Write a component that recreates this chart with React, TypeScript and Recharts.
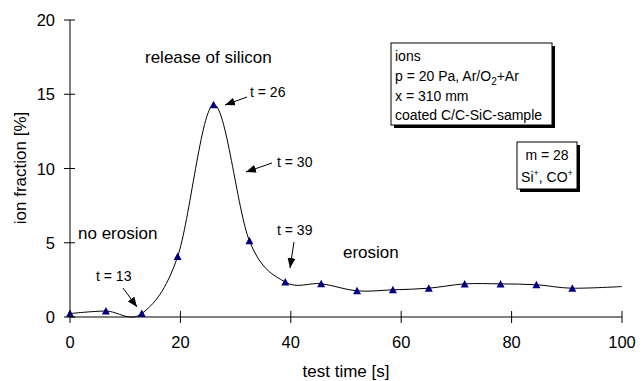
import React from "react";
import { LineChart, Line, XAxis, YAxis } from "recharts";

// measured points (every 6.5 s) + unmarked end of trace
const testTime = [0, 6.5, 13, 19.5, 26, 32.5, 39, 45.5, 52, 58.5, 65, 71.5, 78, 84.5, 91, 100];
const ionFraction = [0.23, 0.4, 0.23, 4.07, 14.3, 5.13, 2.35, 2.24, 1.76, 1.83, 1.94, 2.23, 2.23, 2.17, 1.94, 2.05];
const markedCount = 15;
const xTicks = [0, 20, 40, 60, 80, 100];
const yTicks = [0, 5, 10, 15, 20];

const data = testTime.map((t, i) => ({ t, v: ionFraction[i] }));

const FONT = '"Liberation Sans", Arial, sans-serif';
const PLOT_LEFT = 70;
const PLOT_BOTTOM = 317;

// Excel style smoothed line (Catmull-Rom / cardinal, tension 0)
const excelSmooth = (ctx: any) => {
  let x0 = NaN, x1 = NaN, x2 = NaN, y0 = NaN, y1 = NaN, y2 = NaN;
  let n = 0;
  let line = NaN;
  const k = 1 / 6;
  const seg = (x: number, y: number) =>
    ctx.bezierCurveTo(x1 + k * (x2 - x0), y1 + k * (y2 - y0), x2 + k * (x1 - x), y2 + k * (y1 - y), x2, y2);
  return {
    areaStart() { line = 0; },
    areaEnd() { line = NaN; },
    lineStart() { x0 = x1 = x2 = y0 = y1 = y2 = NaN; n = 0; },
    lineEnd() {
      if (n === 2) ctx.lineTo(x2, y2);
      else if (n === 3) seg(x1, y1);
      if (line || (line !== 0 && n === 1)) ctx.closePath();
      line = 1 - line;
    },
    point(x: number, y: number) {
      x = +x; y = +y;
      if (n === 0) { n = 1; if (line) ctx.lineTo(x, y); else ctx.moveTo(x, y); }
      else if (n === 1) { n = 2; x1 = x; y1 = y; }
      else { n = 3; seg(x, y); }
      x0 = x1; x1 = x2; x2 = x;
      y0 = y1; y1 = y2; y2 = y;
    },
  };
};

const renderTriangle = (props: any) => {
  const { cx, cy, index } = props;
  if (index >= markedCount || cx == null) return <g key={`d${index}`} />;
  return (
    <path
      key={`d${index}`}
      d={`M${cx},${cy - 4}L${cx + 4},${cy + 3.5}L${cx - 4},${cy + 3.5}Z`}
      fill="#000080"
    />
  );
};

const XTick = (props: any) => {
  const { x, payload } = props;
  return (
    <g>
      <line x1={x} x2={x} y1={PLOT_BOTTOM - 6} y2={PLOT_BOTTOM + 6} stroke="#000" />
      <text x={x} y={348} textAnchor="middle" fontSize={16.5} fontFamily={FONT} fill="#000">
        {payload.value}
      </text>
    </g>
  );
};

const YTick = (props: any) => {
  const { y, payload } = props;
  return (
    <g>
      <line x1={PLOT_LEFT - 6} x2={PLOT_LEFT + 5} y1={y} y2={y} stroke="#000" />
      <text x={55} y={y + 6} textAnchor="end" fontSize={16.5} fontFamily={FONT} fill="#000">
        {payload.value}
      </text>
    </g>
  );
};

const Note = ({ x, y, size = 14, children, anchor = "start" }: any) => (
  <text x={x} y={y} fontSize={size} fontFamily={FONT} fill="#000" textAnchor={anchor}>
    {children}
  </text>
);

const Arrow = ({ x1, y1, x2, y2 }: any) => (
  <line x1={x1} y1={y1} x2={x2} y2={y2} stroke="#000" strokeWidth={1} markerEnd="url(#ah)" />
);

const Annotations = () => (
  <svg
    width={643}
    height={381}
    style={{ position: "absolute", left: 0, top: 0, pointerEvents: "none" }}
  >
    <defs>
      <marker id="ah" markerUnits="userSpaceOnUse" markerWidth={10} markerHeight={8} refX={10} refY={4} orient="auto">
        <path d="M0,0L10,4L0,8Z" fill="#000" />
      </marker>
    </defs>

    <text
      x={26}
      y={168}
      fontSize={17}
      fontFamily={FONT}
      textAnchor="middle"
      transform="rotate(-90, 26, 168)"
    >
      ion fraction [%]
    </text>
    <Note x={346} y={377} size={17} anchor="middle">test time [s]</Note>

    <Note x={145} y={63} size={17}>release of silicon</Note>
    <Note x={78} y={239} size={17}>no erosion</Note>
    <Note x={343} y={258} size={17}>erosion</Note>

    <Note x={250} y={97}>t = 26</Note>
    <Arrow x1={247} y1={97} x2={225} y2={105} />
    <Note x={277} y={167}>t = 30</Note>
    <Arrow x1={272} y1={163} x2={246} y2={172} />
    <Note x={96} y={281}>t = 13</Note>
    <Arrow x1={123} y1={288} x2={137} y2={307} />
    <Note x={277} y={235}>t = 39</Note>
    <Arrow x1={294} y1={242} x2={290} y2={268} />

    <rect x={394} y={46} width={161} height={82} fill="#000" />
    <rect x={391} y={43} width={161} height={82} fill="#fff" stroke="#000" />
    <Note x={395} y={61}>ions</Note>
    <Note x={395} y={81}>
      p = 20 Pa, Ar/O<tspan fontSize={10} dy={4}>2</tspan>
      <tspan dy={-4}>+Ar</tspan>
    </Note>
    <Note x={395} y={101}>x = 310 mm</Note>
    <Note x={395} y={120}>coated C/C-SiC-sample</Note>

    <rect x={520} y={145} width={60} height={47} fill="#000" />
    <rect x={517} y={142} width={60} height={47} fill="#fff" stroke="#000" />
    <Note x={547} y={160} anchor="middle">m = 28</Note>
    <Note x={547} y={182} anchor="middle">
      Si<tspan fontSize={9} dy={-6}>+</tspan>
      <tspan dy={6}>, CO</tspan>
      <tspan fontSize={9} dy={-6}>+</tspan>
    </Note>
  </svg>
);

export default function App() {
  return (
    <div style={{ position: "relative", width: 643, height: 381, background: "#fff" }}>
      <style>{`body{margin:0}`}</style>
      <LineChart
        width={643}
        height={381}
        data={data}
        margin={{ top: 20, right: 21, bottom: 24, left: 10 }}
      >
        <XAxis
          dataKey="t"
          type="number"
          domain={[0, 100]}
          ticks={xTicks}
          height={40}
          axisLine={{ stroke: "#000" }}
          tickLine={false}
          tick={<XTick />}
          interval={0}
        />
        <YAxis
          type="number"
          domain={[0, 20]}
          ticks={yTicks}
          width={60}
          axisLine={{ stroke: "#000" }}
          tickLine={false}
          tick={<YTick />}
          interval={0}
        />
        <Line
          dataKey="v"
          type={excelSmooth as any}
          stroke="#000"
          strokeWidth={1}
          dot={renderTriangle}
          activeDot={false}
          isAnimationActive={false}
        />
      </LineChart>
      <Annotations />
    </div>
  );
}
